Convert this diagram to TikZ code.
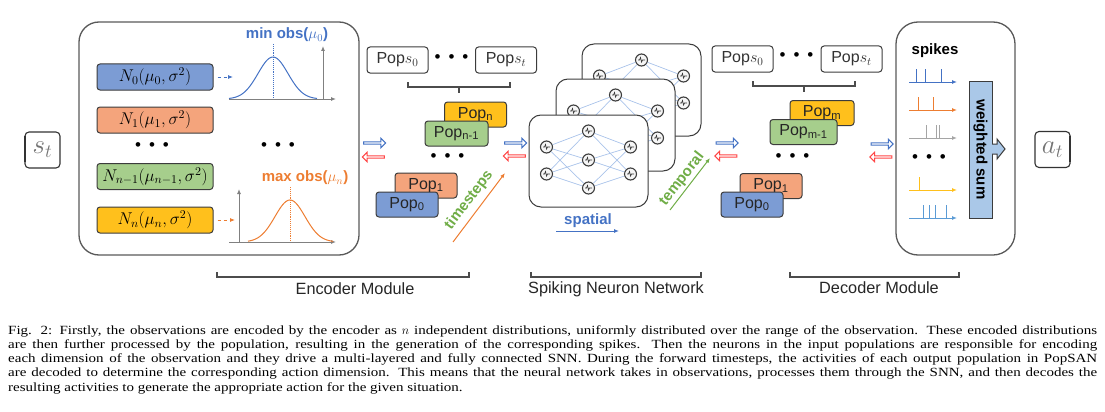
\documentclass[tikz,border=0pt]{standalone}
\usepackage{fix-cm}
\usepackage{amsmath}
\usepackage{fontspec}
\setsansfont{Liberation Sans}
\newfontfamily\capfont[FakeStretch=1.2]{Liberation Serif}
\usepackage{tikz}
\usetikzlibrary{shapes.arrows}
\usetikzlibrary{arrows.meta}
\usetikzlibrary{positioning}
\usepackage{xcolor}
\definecolor{boxline}{RGB}{60,60,60}
\definecolor{boxgray}{RGB}{89,89,89}
\definecolor{popblue}{RGB}{124,156,212}
\definecolor{poporange}{RGB}{244,164,124}
\definecolor{popgreen}{RGB}{166,206,140}
\definecolor{popyellow}{RGB}{255,192,28}
\definecolor{txtblue}{RGB}{68,114,196}
\definecolor{txtorange}{RGB}{237,125,49}
\definecolor{txtgreen}{RGB}{112,173,71}
\definecolor{arrred}{RGB}{255,70,70}
\definecolor{linkblue}{RGB}{170,196,235}
\definecolor{wsfill}{RGB}{170,200,232}
\definecolor{spkgray}{RGB}{165,165,165}
\definecolor{spklight}{RGB}{91,155,213}

\begin{document}
\begin{tikzpicture}[x=1pt,y=-1pt,
  >={Latex[length=5pt,width=4pt]},
  bigbox/.style={draw=boxgray, line width=1.3pt, rounded corners=20pt},
  nbox/.style={draw=boxline, line width=1pt, rounded corners=3pt, minimum width=116pt, minimum height=26pt, inner sep=0pt, font=\fontsize{17}{17}\selectfont},
  popbox/.style={draw=boxline, line width=1pt, rounded corners=3pt, minimum height=25pt, inner sep=0pt, font=\sffamily\fontsize{16}{16}\selectfont, text=black!85},
  popsbox/.style={draw=boxline, line width=1pt, rounded corners=3pt, fill=white, minimum width=61pt, minimum height=26pt, inner sep=0pt, font=\sffamily\fontsize{16}{16}\selectfont, text=black!80},
  dotrow/.style={inner sep=0pt, font=\sffamily\fontsize{17}{17}\selectfont},
  harrow/.style={single arrow, draw, fill=white, line width=1pt, minimum height=22pt, minimum width=9.5pt, single arrow head extend=1.5pt, inner sep=0pt},
  snnbox/.style={draw=boxline, line width=1pt, fill=white, rounded corners=12pt, minimum width=119pt, minimum height=92pt},
  neuron/.style={circle, draw=boxline, line width=1.1pt, fill=gray!8, minimum size=12pt, inner sep=0pt,
    path picture={\draw[line width=0.7pt] ([xshift=-3.5pt]path picture bounding box.center) -- ++(1.5pt,0pt) -- ++(1pt,2.5pt) -- ++(1pt,-4.5pt) -- ++(1pt,2pt) -- ++(2.5pt,0pt);}},
  link/.style={linkblue, line width=0.7pt},
  tag/.style={font=\sffamily\bfseries\fontsize{15}{15}\selectfont},
  module/.style={font=\sffamily\fontsize{16.3}{16.3}\selectfont, text=black!85},
  bracket/.style={draw=black!70, line width=1.2pt},
  iobox/.style={draw=black!80, line width=1.1pt, rounded corners=4pt, minimum width=35pt, minimum height=36pt, inner sep=0pt, font=\fontsize{27}{27}\selectfont, text=black!55},
]
\useasboundingbox (0,0) rectangle (1105,412);

% input and output
\node[iobox] (st) at (42.5,150) {$s_t$};
\draw[black!80, line width=2pt] ([xshift=0.5pt]st.north west) ++(0,5) -- ++(0,26);
\node[iobox] (at) at (1052.5,149.5) {$a_t$};
\draw[black!80, line width=2pt] ([xshift=-0.5pt]at.north east) ++(0,5) -- ++(0,26);

% encoder module
\node[bigbox, minimum width=280pt, minimum height=233pt] (enc) at (219,138.5) {};
\node[nbox, fill=popblue] (n0) at (155,77) {$N_0(\mu_0,\sigma^2)$};
\node[nbox, fill=poporange] (n1) at (155,120) {$N_1(\mu_1,\sigma^2)$};
\node[dotrow] (ed1) at (152,147) {\textbullet\hspace{8pt}\textbullet\hspace{8pt}\textbullet};
\node[nbox, fill=popgreen] (nm) at (155,176.5) {$N_{n-1}(\mu_{n-1},\sigma^2)$};
\node[nbox, fill=popyellow] (nn) at (155,220) {$N_n(\mu_n,\sigma^2)$};
\node[dotrow] (ed2) at (278,147) {\textbullet\hspace{8pt}\textbullet\hspace{8pt}\textbullet};

% gaussians
\coordinate (g0) at (233,77);
\coordinate (gn) at (235,220);
\draw[->, dashed, txtblue, line width=0.8pt] ([xshift=4pt]n0.east) -- (g0);
\draw[->, dashed, txtorange, line width=0.8pt] ([xshift=4pt]nn.east) -- (gn);
\draw[->, gray, line width=1pt] (229,99) -- (336,99);
\draw[->, gray, line width=1pt] (323,99) -- (323,46);
\draw[densely dotted, txtblue, line width=0.9pt] (273,44) -- (273,99);
\draw[txtblue, line width=1pt] plot[domain=-44:44, samples=60] ({273+\x},{99-42*exp(-\x*\x/450)});
\node[tag, text=txtblue] (minobs) at (287,35) {min obs($\mu_0$)};
\draw[->, gray, line width=1pt] (229,242) -- (336,242);
\draw[->, gray, line width=1pt] (239,242) -- (239,189);
\draw[densely dotted, txtorange, line width=0.9pt] (290,187) -- (290,242);
\draw[txtorange, line width=1pt] plot[domain=-42:43, samples=60] ({290+\x},{242-42*exp(-\x*\x/450)});
\node[tag, text=txtorange] (maxobs) at (305,178) {max obs($\mu_n$)};

\draw[bracket] (217,272) -- (217,277) -- (469,277) -- (469,272);
\node[module] (encl) at (355,289) {Encoder Module};

% encoder populations
\node[harrow, draw=txtblue] (ea1) at (374,143) {};
\node[harrow, draw=arrred, shape border rotate=180] (ea2) at (374,157) {};
\node[popsbox] (eps0) at (397.5,60) {Pop$s_0$};
\node[dotrow] (ed3) at (451.5,59) {\textbullet\hspace{8pt}\textbullet\hspace{8pt}\textbullet};
\node[popsbox] (epst) at (506,60) {Pop$s_t$};
\draw[bracket] (408,82) -- (408,87) -- (510,87) -- (510,82);
\draw[bracket] (459,87) -- (459,93);
\node[popbox, fill=popyellow, minimum width=62pt] (epn) at (475.5,114.5) {Pop\textsubscript{n}};
\node[popbox, fill=popgreen, minimum width=63pt] (epm) at (456.5,133.5) {Pop\textsubscript{n-1}};
\node[dotrow] (ed4) at (447.5,158) {\textbullet\hspace{8pt}\textbullet\hspace{8pt}\textbullet};
\node[popbox, fill=poporange, minimum width=62pt] (ep1) at (426,185.5) {Pop\textsubscript{1}};
\node[popbox, fill=popblue, minimum width=62pt] (ep0) at (407,204.5) {Pop\textsubscript{0}};
\coordinate (ts0) at (453,242);
\coordinate (ts1) at (505,173);
\draw[->, txtorange, line width=1pt] (ts0) -- (ts1);
\node[tag, text=txtgreen, rotate=53] (tsl) at (469,200) {timesteps};
\node[harrow, draw=txtblue] (ea3) at (515,143) {};
\node[harrow, draw=arrred, shape border rotate=180] (ea4) at (515,156) {};

% spiking neuron network, back to front
\foreach \dx/\dy/\k in {53/-71/2, 27/-36/1, 0/0/0}{
  \begin{scope}[shift={(\dx,\dy)}]
    \node[snnbox] (snn\k) at (588.5,161) {};
    \foreach \i/\ux/\uy in {a/-42/-14, b/-42/13, c/0/-30, d/0/-1, e/0/27, f/42/-14, g/42/13}
      \node[neuron] (u\k\i) at ({588.5+\ux},{161+\uy}) {};
    \foreach \s in {a,b}{\foreach \t in {c,d,e}{\draw[link] (u\k\s) -- (u\k\t);}}
    \foreach \s in {c,d,e}{\foreach \t in {f,g}{\draw[link] (u\k\s) -- (u\k\t);}}
  \end{scope}
}
\node[tag, text=txtblue] (spl) at (588,221) {spatial};
\coordinate (sp0) at (556,231);
\coordinate (sp1) at (619,231);
\draw[->, txtblue, line width=1pt] (sp0) -- (sp1);
\coordinate (tp0) at (670,210);
\coordinate (tp1) at (710,158);
\draw[->, txtgreen, line width=1pt] (tp0) -- (tp1);
\node[tag, text=txtgreen, rotate=52] (tpl) at (682,179) {temporal};
\draw[bracket] (531,272) -- (531,277) -- (701,277) -- (701,272);
\node[module] (snnl) at (616,289) {Spiking Neuron Network};

% decoder populations
\node[harrow, draw=txtblue] (da1) at (726.5,143) {};
\node[harrow, draw=arrred, shape border rotate=180] (da2) at (726.5,156) {};
\node[popsbox] (dps0) at (742.5,59) {Pop$s_0$};
\node[dotrow] (dd1) at (796.5,57) {\textbullet\hspace{8pt}\textbullet\hspace{8pt}\textbullet};
\node[popsbox] (dpst) at (851.5,59) {Pop$s_t$};
\draw[bracket] (753,81) -- (753,86) -- (855,86) -- (855,81);
\draw[bracket] (804,86) -- (804,92);
\node[popbox, fill=popyellow, minimum width=64pt] (dpn) at (822,113) {Pop\textsubscript{m}};
\node[popbox, fill=popgreen, minimum width=67pt] (dpm) at (803.5,132) {Pop\textsubscript{m-1}};
\node[dotrow] (dd2) at (792.5,158) {\textbullet\hspace{8pt}\textbullet\hspace{8pt}\textbullet};
\node[popbox, fill=poporange, minimum width=62pt] (dp1) at (771,186) {Pop\textsubscript{1}};
\node[popbox, fill=popblue, minimum width=62pt] (dp0) at (752,204.5) {Pop\textsubscript{0}};
\node[harrow, draw=txtblue] (da3) at (881.5,144) {};
\node[harrow, draw=arrred, shape border rotate=180] (da4) at (881.5,157) {};

% decoder module
\node[bigbox, rounded corners=22pt, minimum width=119pt, minimum height=233pt] (dec) at (955.5,138.5) {};
\node[tag] (spk) at (935,51) {spikes};
\foreach \c/\yy/\sp in {txtblue/82/{916,925,941}, txtorange/110/{918,933}, spkgray/138/{926,936,939}, popyellow/190/{919}, spklight/218/{923,929,935,946}}{
  \draw[->, \c, line width=1pt] (909,\yy) -- (957,\yy);
  \foreach \s in \sp {\draw[\c, line width=1pt] (\s,\yy) -- (\s,\yy-13);}
}
\node[dotrow] (dd3) at (929,159) {\textbullet\hspace{8pt}\textbullet\hspace{8pt}\textbullet};
\node[tag, draw=boxline, line width=1pt, fill=wsfill, rotate=-90, minimum width=137pt, minimum height=23pt, inner sep=0pt] (ws) at (980.5,149.5) {weighted sum};
\fill[wsfill] (992,144) -- (997,144) -- (997,139) -- (1005,149) -- (997,159) -- (997,154) -- (992,154) -- cycle;
\draw[boxline, line width=1pt] (992,144) -- (997,144) -- (997,139) -- (1005,149) -- (997,159) -- (997,154) -- (992,154);
\draw[bracket] (790,272) -- (790,277) -- (959,277) -- (959,272);
\node[module] (decl) at (879,288) {Decoder Module};

% caption
\node[anchor=north west, text width=1089pt, align=justify, inner sep=0pt, font=\capfont\fontsize{12.5}{14.3}\selectfont] (cap) at (8,325) {Fig. 2: Firstly, the observations are encoded by the encoder as $n$ independent distributions, uniformly distributed over the range of the observation. These encoded distributions\linebreak are then further processed by the population, resulting in the generation of the corresponding spikes. Then the neurons in the input populations are responsible for encoding\linebreak each dimension of the observation and they drive a multi-layered and fully connected SNN. During the forward timesteps, the activities of each output population in PopSAN\linebreak are decoded to determine the corresponding action dimension. This means that the neural network takes in observations, processes them through the SNN, and then decodes the\linebreak resulting activities to generate the appropriate action for the given situation.};
\end{tikzpicture}
\end{document}
